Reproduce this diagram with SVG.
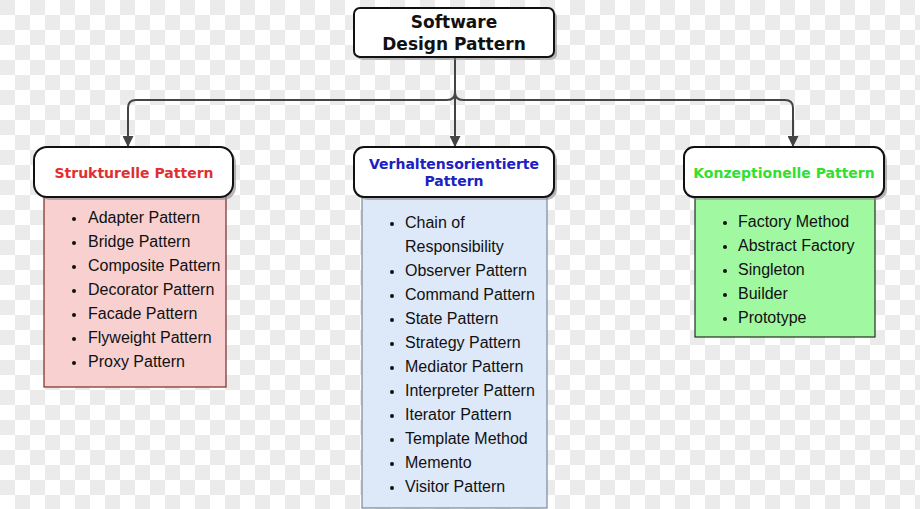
<svg xmlns="http://www.w3.org/2000/svg" width="920" height="509" viewBox="0 0 920 509">
<style>
.hdr{fill:#fff;stroke:#111;stroke-width:2}
.shd{fill:#888;opacity:0.6}
.ht{font-family:"DejaVu Sans",Verdana,sans-serif;font-weight:bold;font-size:14px;text-anchor:middle}
.tt{font-family:"DejaVu Sans",Verdana,sans-serif;font-weight:bold;font-size:17px;text-anchor:middle;fill:#111}
.li{font-family:"Liberation Sans",Arial,sans-serif;font-size:16px;fill:#111}
.bu{fill:#111}
.con{fill:none;stroke:#444;stroke-width:2}
</style>
<defs>
<pattern id="chk" width="30" height="30" patternUnits="userSpaceOnUse">
<rect width="30" height="30" fill="#ffffff"/>
<rect width="15" height="15" fill="#ebebeb"/>
<rect x="15" y="15" width="15" height="15" fill="#ebebeb"/>
</pattern>
<marker id="arr" viewBox="0 0 10 10" refX="9" refY="5" markerWidth="5.5" markerHeight="5.5" orient="auto" markerUnits="strokeWidth">
<path d="M0,0 L10,5 L0,10 Z" fill="#444"/>
</marker>
</defs>
<rect width="920" height="509" fill="url(#chk)"/>
<g id="connectors">
<path class="con" d="M455,57 V92 Q455,100 447,100 H136 Q128,100 128,108 V146" marker-end="url(#arr)"/>
<path class="con" d="M455,92 Q455,100 463,100 H785 Q793,100 793,108 V146" marker-end="url(#arr)"/>
<path class="con" d="M455,92 V146" marker-end="url(#arr)"/>
</g>
<g id="root">
<rect class="shd" x="357" y="11" width="200" height="49" rx="6"/>
<rect class="hdr" x="354" y="8" width="200" height="49" rx="6"/>
<text class="tt" x="454" y="28">Software</text>
<text class="tt" x="454" y="50">Design Pattern</text>
</g>
<g id="strukturelle">
<rect x="44" y="195" width="182" height="192" fill="#f8d0d0" stroke="#7a2a2a" stroke-width="1.2"/>
<rect class="shd" x="37" y="150" width="199" height="50" rx="13"/>
<rect class="hdr" x="34" y="147" width="199" height="50" rx="13"/>
<text class="ht" x="134" y="178" fill="#e03030">Strukturelle Pattern</text>
<g class="li">
<text x="88" y="223">Adapter Pattern</text>
<text x="88" y="247">Bridge Pattern</text>
<text x="88" y="271">Composite Pattern</text>
<text x="88" y="295">Decorator Pattern</text>
<text x="88" y="319">Facade Pattern</text>
<text x="88" y="343">Flyweight Pattern</text>
<text x="88" y="367">Proxy Pattern</text>
</g>
<g class="bu">
<circle cx="74" cy="219" r="2"/><circle cx="74" cy="243" r="2"/><circle cx="74" cy="267" r="2"/><circle cx="74" cy="291" r="2"/><circle cx="74" cy="315" r="2"/><circle cx="74" cy="339" r="2"/><circle cx="74" cy="363" r="2"/>
</g>
</g>
<g id="verhaltensorientierte">
<rect x="362" y="195" width="185" height="313" fill="#dde8f8" stroke="#7a8a9a" stroke-width="1.2"/>
<rect class="shd" x="357" y="150" width="200" height="50" rx="10"/>
<rect class="hdr" x="354" y="147" width="200" height="50" rx="10"/>
<text class="ht" x="454" y="169" fill="#2020c0">Verhaltensorientierte</text>
<text class="ht" x="454" y="186" fill="#2020c0">Pattern</text>
<g class="li">
<text x="405" y="228">Chain of</text>
<text x="405" y="252">Responsibility</text>
<text x="405" y="276">Observer Pattern</text>
<text x="405" y="300">Command Pattern</text>
<text x="405" y="324">State Pattern</text>
<text x="405" y="348">Strategy Pattern</text>
<text x="405" y="372">Mediator Pattern</text>
<text x="405" y="396">Interpreter Pattern</text>
<text x="405" y="420">Iterator Pattern</text>
<text x="405" y="444">Template Method</text>
<text x="405" y="468">Memento</text>
<text x="405" y="492">Visitor Pattern</text>
</g>
<g class="bu">
<circle cx="392" cy="224" r="2"/><circle cx="392" cy="272" r="2"/><circle cx="392" cy="296" r="2"/><circle cx="392" cy="320" r="2"/><circle cx="392" cy="344" r="2"/><circle cx="392" cy="368" r="2"/><circle cx="392" cy="392" r="2"/><circle cx="392" cy="416" r="2"/><circle cx="392" cy="440" r="2"/><circle cx="392" cy="464" r="2"/><circle cx="392" cy="488" r="2"/>
</g>
</g>
<g id="konzeptionelle">
<rect x="695" y="195" width="180" height="142" fill="#a0f8a0" stroke="#203020" stroke-width="1.2"/>
<rect class="shd" x="687" y="150" width="200" height="50" rx="10"/>
<rect class="hdr" x="684" y="147" width="200" height="50" rx="10"/>
<text class="ht" x="784" y="178" fill="#30e030">Konzeptionelle Pattern</text>
<g class="li">
<text x="738" y="227">Factory Method</text>
<text x="738" y="251">Abstract Factory</text>
<text x="738" y="275">Singleton</text>
<text x="738" y="299">Builder</text>
<text x="738" y="323">Prototype</text>
</g>
<g class="bu">
<circle cx="725" cy="223" r="2"/><circle cx="725" cy="247" r="2"/><circle cx="725" cy="271" r="2"/><circle cx="725" cy="295" r="2"/><circle cx="725" cy="319" r="2"/>
</g>
</g>
</svg>
